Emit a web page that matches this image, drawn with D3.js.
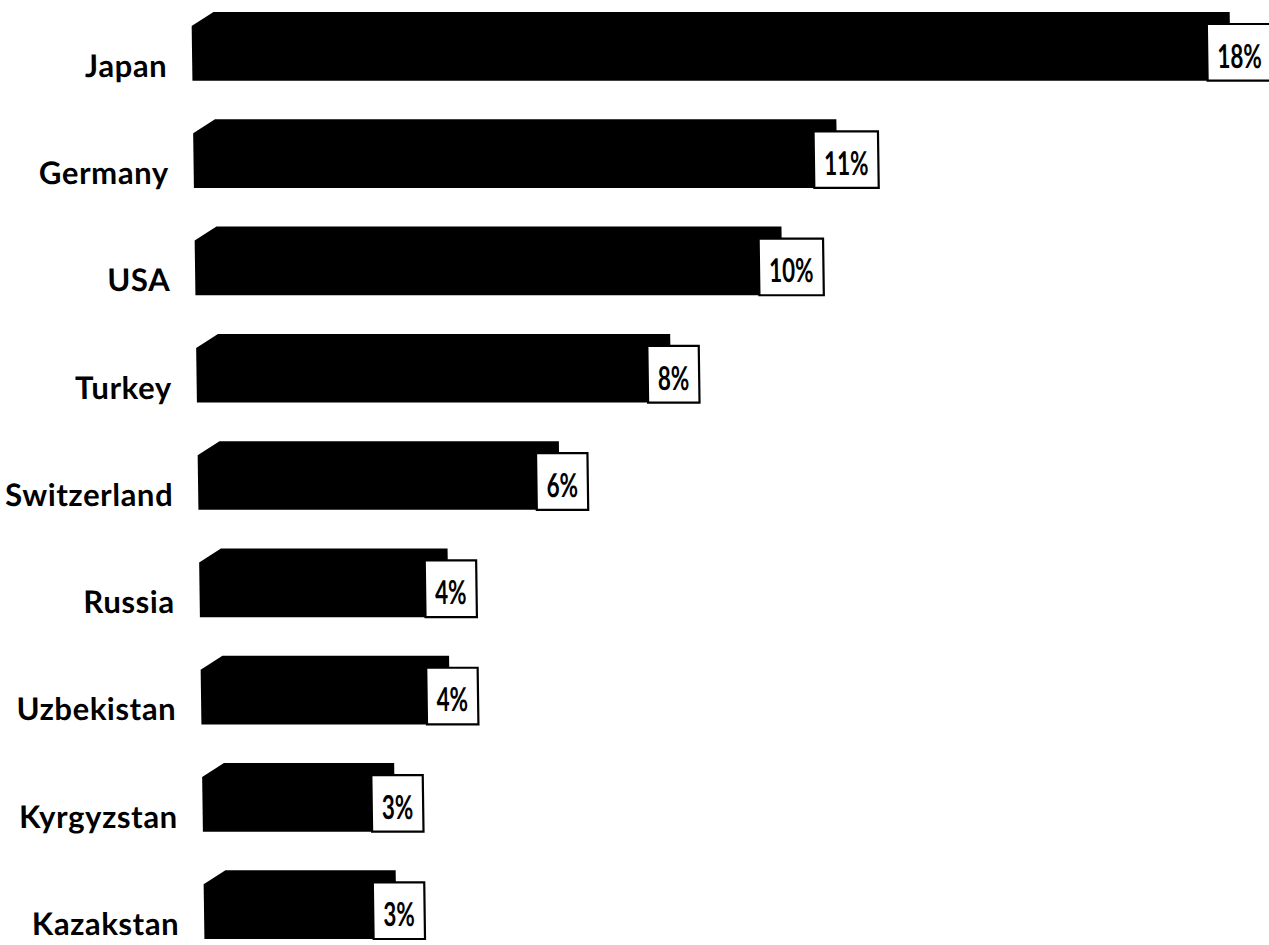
<!DOCTYPE html>
<html>
<head>
<meta charset="utf-8">
<script src="https://cdn.jsdelivr.net/npm/d3@7"></script>
<style>
  html, body { margin: 0; padding: 0; background: #fff; }
  svg { display: block; }
  .cat { font-family: Lato, "Open Sans", sans-serif; font-weight: 700; font-size: 31px; letter-spacing: 0.6px; fill: #000; }
  .val { font-family: Lato, "Open Sans", sans-serif; font-weight: 700; font-size: 33px; fill: #000; }
</style>
</head>
<body>
<svg id="chart" width="1269" height="945"></svg>
<script>
// Share by country (%), largest first
const categories = ["Japan", "Germany", "USA", "Turkey", "Switzerland", "Russia", "Uzbekistan", "Kyrgyzstan", "Kazakstan"];
const shares = [18, 11, 10, 8, 6, 4, 4, 3, 3];
const valueLabels = ["18%", "11%", "10%", "8%", "6%", "4%", "4%", "3%", "3%"];

const width = 1269, height = 945;
const svg = d3.select("#chart");

// Slight lean of the whole printed figure
const g = svg.append("g").attr("transform", "skewX(0.8)");

const x = d3.scaleLinear().domain([0, 18]).range([191.3, 1206.5]);
const y = d3.scaleBand().domain(categories).range([12, 939]).paddingInner(0.36).paddingOuter(0);

const bevelW = 22, bevelH = 14;   // cut top-left corner of each bar
const overhang = 23;              // bar runs on underneath its value box
const boxInset = 12;              // value box starts below the bar top
const valScale = 0.68;            // condensed value numerals
const padX = 10;

const rows = categories.map((c, i) => ({ cat: c, v: shares[i], label: valueLabels[i] }));

const row = g.selectAll("g.row").data(rows).join("g").attr("class", "row");

// Bars
row.append("path")
  .attr("d", d => {
    const x0 = x(0), x1 = x(d.v) + overhang;
    const t = y(d.cat), b = y(d.cat) + y.bandwidth();
    return `M${x0},${t + bevelH} L${x0 + bevelW},${t} L${x1},${t} L${x1},${b} L${x0},${b} Z`;
  })
  .attr("fill", "#000");

// Category labels
row.append("text")
  .attr("class", "cat")
  .attr("x", x(0) - 25)
  .attr("y", d => y(d.cat) + y.bandwidth() - 4)
  .attr("text-anchor", "end")
  .text(d => d.cat);

// Value boxes with labels
row.each(function(d) {
  const r = d3.select(this);
  const bx = x(d.v);
  const top = y(d.cat) + boxInset;
  const bottom = y(d.cat) + y.bandwidth();
  const box = r.append("rect")
    .attr("fill", "#fff")
    .attr("stroke", "#000")
    .attr("stroke-width", 2.2);
  const t = r.append("text")
    .attr("class", "val")
    .attr("transform", `translate(${bx + padX},${bottom - 13}) scale(${valScale},1)`)
    .text(d.label);
  const tw = t.node().getComputedTextLength() * valScale;
  box.attr("x", bx).attr("y", top)
    .attr("width", tw + padX * 2)
    .attr("height", bottom - top);
});
</script>
</body>
</html>
